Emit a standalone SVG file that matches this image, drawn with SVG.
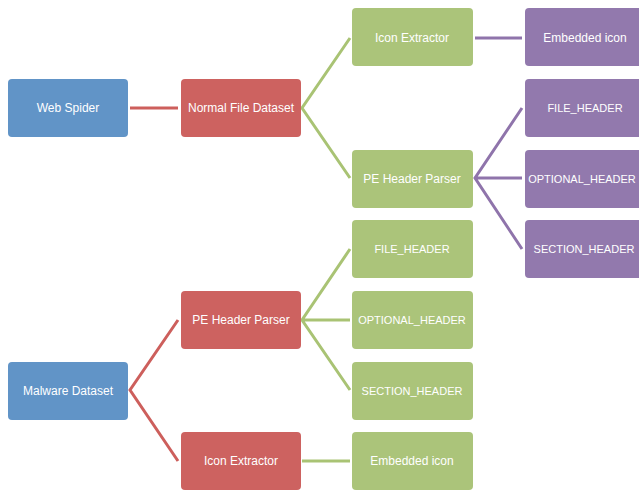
<svg xmlns="http://www.w3.org/2000/svg" width="639" height="491" viewBox="0 0 639 491">
<style>
.n rect{stroke:none}
.blue rect{fill:#6194c7}
.red rect{fill:#cd6260}
.green rect{fill:#abc47a}
.purple rect{fill:#9279ad}
text{font-family:"Liberation Sans",Arial,sans-serif;font-size:12px;fill:#ffffff;text-anchor:middle}
text.k{font-size:11px}
.c{fill:none;stroke-width:3;stroke-linecap:butt;stroke-linejoin:miter}
.cr{stroke:#cd5f5c}
.cg{stroke:#a9c374}
.cp{stroke:#8f74ab}
</style>
<rect width="639" height="491" fill="#ffffff"/>
<g id="connectors">
<path class="c cr" d="M130,108 H178"/>
<path class="c cg" d="M350,38 L302,108 L350,178"/>
<path class="c cp" d="M475,38 H522"/>
<path class="c cp" d="M522,108 L475,178 L522,249 M475,178 H522"/>
<path class="c cr" d="M178,320 L130,390 L178,461"/>
<path class="c cg" d="M350,249 L302,320 L350,390 M302,320 H350"/>
<path class="c cg" d="M302,461 H350"/>
</g>
<g id="web-spider" class="n blue"><rect x="8" y="79" width="120" height="58" rx="4"/><text x="68" y="112">Web Spider</text></g>
<g id="normal-file-dataset" class="n red"><rect x="181" y="79" width="120" height="58" rx="4"/><text x="241" y="112">Normal File Dataset</text></g>
<g id="icon-extractor-1" class="n green"><rect x="352" y="8" width="121" height="58" rx="4"/><text x="412" y="42">Icon Extractor</text></g>
<g id="pe-header-parser-1" class="n green"><rect x="352" y="150" width="121" height="58" rx="4"/><text x="412" y="183">PE Header Parser</text></g>
<g id="embedded-icon-1" class="n purple"><rect x="525" y="8" width="121" height="58" rx="4"/><text x="585" y="42">Embedded icon</text></g>
<g id="file-header-1" class="n purple"><rect x="525" y="79" width="121" height="58" rx="4"/><text class="k" x="585" y="112">FILE_HEADER</text></g>
<g id="optional-header-1" class="n purple"><rect x="525" y="150" width="121" height="58" rx="4"/><text class="k" x="582" y="183">OPTIONAL_HEADER</text></g>
<g id="section-header-1" class="n purple"><rect x="525" y="220" width="121" height="58" rx="4"/><text class="k" x="584" y="253">SECTION_HEADER</text></g>
<g id="file-header-2" class="n green"><rect x="352" y="220" width="121" height="58" rx="4"/><text class="k" x="412" y="253">FILE_HEADER</text></g>
<g id="optional-header-2" class="n green"><rect x="352" y="291" width="121" height="58" rx="4"/><text class="k" x="412" y="324">OPTIONAL_HEADER</text></g>
<g id="section-header-2" class="n green"><rect x="352" y="362" width="121" height="58" rx="4"/><text class="k" x="412" y="395">SECTION_HEADER</text></g>
<g id="embedded-icon-2" class="n green"><rect x="352" y="432" width="121" height="58" rx="4"/><text x="412" y="465">Embedded icon</text></g>
<g id="pe-header-parser-2" class="n red"><rect x="181" y="291" width="120" height="58" rx="4"/><text x="241" y="324">PE Header Parser</text></g>
<g id="icon-extractor-2" class="n red"><rect x="181" y="432" width="120" height="58" rx="4"/><text x="241" y="465">Icon Extractor</text></g>
<g id="malware-dataset" class="n blue"><rect x="8" y="362" width="120" height="58" rx="4"/><text x="68" y="395">Malware Dataset</text></g>
</svg>
